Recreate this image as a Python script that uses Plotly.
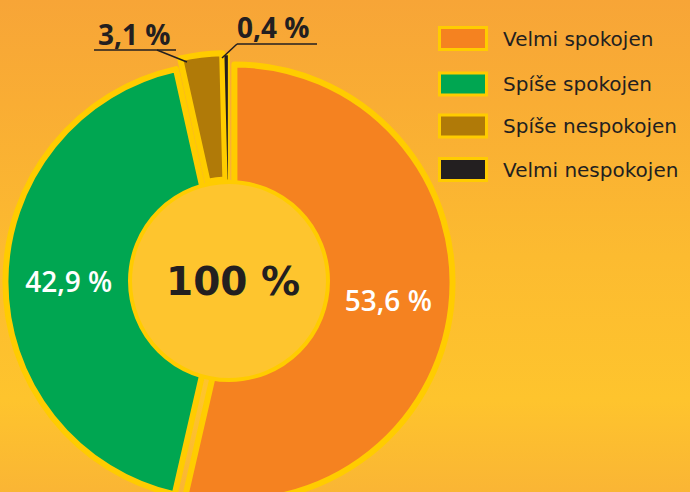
import plotly.graph_objects as go

# ---- data ----
categories = ["Velmi spokojen", "Spíše spokojen", "Spíše nespokojen", "Velmi nespokojen"]
values = [53.6, 42.9, 3.1, 0.4]
slice_colors = ["#F58220", "#00A651", "#B07A08", "#231F20"]
total_label = "100 %"

W, H = 690, 512
BORDER = "#FFCC00"
DARK = "#231F20"

def px(x):
    return x / W

def py(y):
    return (H - y) / H

labels_txt = [f"{v:.1f}".replace(".", ",") + " %" for v in values]

# pie geometry (pixels)
cx, cy, R = 229, 282, 229

fig = go.Figure()

# background gradient
fig.add_trace(go.Scatter(
    x=[0, 1, 1, 0, 0], y=[0, 0, 1, 1, 0], mode="lines", fill="toself",
    line=dict(width=0), hoverinfo="skip", showlegend=False,
    fillgradient=dict(type="vertical", colorscale=[
        [0.0, "#F9B236"], [0.22, "#FEC42D"], [0.5, "#FCBB30"],
        [0.8, "#F9AD34"], [1.0, "#F7A537"]]),
))

fig.add_trace(go.Pie(
    labels=categories, values=values, text=labels_txt,
    textinfo="text", textposition=["inside", "inside", "none", "none"],
    insidetextorientation="horizontal",
    textfont=dict(family="Open Sans", size=28, color="white", weight=600),
    marker=dict(colors=slice_colors, line=dict(color=BORDER, width=[6, 6, 6, 2])),
    sort=False, direction="clockwise", rotation=0,
    pull=[0.025, 0.025, 0.05, 0.045], hole=0.42,
    domain=dict(x=[max(0, px(cx - R)), min(1, px(cx + R))],
                y=[max(0, py(cy + R)), min(1, py(cy - R))]),
    showlegend=False, hoverinfo="label+percent",
))

shapes = []
annotations = []

# centre disc
hcx, hcy, hr = 229, 281, 99
shapes.append(dict(type="circle", xref="paper", yref="paper",
                   x0=px(hcx - hr), x1=px(hcx + hr), y0=py(hcy + hr), y1=py(hcy - hr),
                   fillcolor="#FEC52E", line=dict(color=BORDER, width=4), layer="above"))
annotations.append(dict(text=total_label, x=px(233), y=py(281), xref="paper", yref="paper",
                        showarrow=False, xanchor="center", yanchor="middle",
                        font=dict(family="DejaVu Sans", size=39, color=DARK, weight=700)))

# outside labels with leader lines
out_specs = [
    (2, 134.5, 34, [(94, 50, 176, 50), (157, 50, 187, 62)]),
    (3, 273.5, 27, [(237, 44, 317, 44), (237, 44, 222, 58)]),
]
for idx, tx, ty, lines in out_specs:
    annotations.append(dict(text=labels_txt[idx], x=px(tx), y=py(ty), xref="paper", yref="paper",
                            showarrow=False, xanchor="center", yanchor="middle",
                            font=dict(family="Open Sans", size=28, color=DARK, weight=700)))
    for (x0, y0, x1, y1) in lines:
        shapes.append(dict(type="line", xref="paper", yref="paper",
                           x0=px(x0), y0=py(y0), x1=px(x1), y1=py(y1),
                           line=dict(color=DARK, width=1.5), layer="above"))

# manual legend
row_y = [38.5, 84, 126, 169.5]
for cat, col, ry in zip(categories, slice_colors, row_y):
    shapes.append(dict(type="rect", xref="paper", yref="paper",
                       x0=px(439.5), x1=px(486.5), y0=py(ry + 11), y1=py(ry - 11),
                       fillcolor=col, line=dict(color=BORDER, width=3), layer="above"))
    annotations.append(dict(text=cat, x=px(501), y=py(ry), xref="paper", yref="paper",
                            showarrow=False, xanchor="left", yanchor="middle",
                            font=dict(family="DejaVu Sans", size=20, color=DARK)))

fig.update_layout(
    width=W, height=H, margin=dict(l=0, r=0, t=0, b=0),
    paper_bgcolor="#FBB832", plot_bgcolor="rgba(0,0,0,0)",
    xaxis=dict(range=[0, 1], visible=False, fixedrange=True),
    yaxis=dict(range=[0, 1], visible=False, fixedrange=True),
    shapes=shapes, annotations=annotations, showlegend=False,
)

fig.write_html("out.html", config={"displayModeBar": False},
               post_script="document.body.style.margin='0';document.body.style.overflow='hidden';")
